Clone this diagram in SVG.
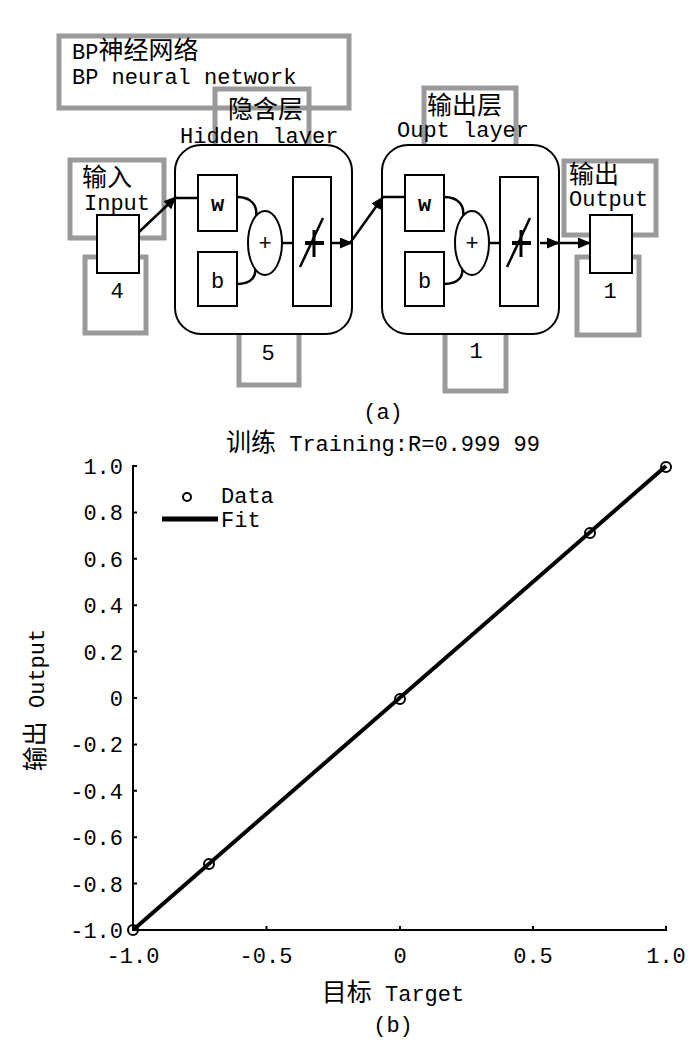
<svg xmlns="http://www.w3.org/2000/svg" width="700" height="1050" viewBox="0 0 700 1050">
<style>
text{font-family:"Liberation Mono","Noto Sans CJK SC",monospace;font-size:22px;fill:#000}
.cj{font-family:"Noto Sans CJK SC",sans-serif;font-size:25px}
.g{fill:none;stroke:#9a9a9a;stroke-width:5}
.k{fill:#fff;stroke:#000;stroke-width:2}
.ln{fill:none;stroke:#000;stroke-width:2.5}
.c{text-anchor:middle}
.e{text-anchor:end}
.ax{fill:none;stroke:#000;stroke-width:2}
.pt{fill:none;stroke:#000;stroke-width:2}
</style>
<defs>
<marker id="ah" markerUnits="userSpaceOnUse" markerWidth="13" markerHeight="11" refX="12" refY="5.5" orient="auto">
<path d="M0,0 L13,5.5 L0,11 Z" fill="#000"/>
</marker>
<g id="layer">
<rect x="175" y="145" width="177" height="189" rx="26" class="k" stroke-width="2.5"/>
<rect x="198" y="175" width="39" height="56" class="k"/>
<rect x="198" y="252" width="39" height="54" class="k"/>
<text x="217.5" y="211" class="c" font-weight="bold" font-size="20">w</text>
<text x="217.5" y="288" class="c" font-size="20">b</text>
<path d="M237,197 C252,197 258,206 256,218" class="ln"/>
<path d="M237,284 C252,284 257,276 255,266" class="ln"/>
<ellipse cx="265" cy="243" rx="17" ry="32" class="k"/>
<text x="265" y="250" class="c" font-size="18">+</text>
<line x1="282" y1="243" x2="293" y2="243" class="ln"/>
<rect x="293" y="177" width="38" height="129" class="k"/>
<line x1="300" y1="267" x2="323" y2="218" class="ln" stroke-width="2"/>
<line x1="305" y1="243" x2="324" y2="243" stroke="#000" stroke-width="4"/>
<line x1="314" y1="230" x2="314" y2="257" stroke="#000" stroke-width="3"/>
</g>
</defs>

<g id="gray-frames">
<rect x="59" y="36" width="290" height="72" class="g" stroke-width="6"/>
<rect x="215" y="89" width="94" height="70" class="g" stroke-width="4"/>
<rect x="424" y="88" width="92" height="70" class="g" stroke-width="4"/>
<rect x="70" y="160" width="94" height="78" class="g"/>
<rect x="85" y="257" width="61" height="76" class="g"/>
<rect x="239" y="320" width="60" height="65" class="g" stroke-width="4"/>
<rect x="445" y="320" width="61" height="71" class="g" stroke-width="4"/>
<rect x="564" y="161" width="92" height="74" class="g"/>
<rect x="577" y="257" width="62" height="78" class="g"/>
</g>

<g id="title-a">
<text x="72" y="59">BP<tspan class="cj">神经网络</tspan></text>
<text x="72" y="84">BP neural network</text>
</g>

<g id="input">
<text x="82" y="186" class="cj">输入</text>
<text x="84" y="210">Input</text>
<rect x="97" y="215" width="42" height="58" class="k"/>
<text x="117" y="298" class="c">4</text>
</g>

<g id="hidden-layer">
<text x="228" y="118" class="cj">隐含层</text>
<text x="180" y="143">Hidden layer</text>
<use href="#layer"/>
<text x="268" y="360" class="c">5</text>
</g>

<g id="output-layer">
<text x="427" y="114" class="cj">输出层</text>
<text x="397" y="137">Oupt layer</text>
<use href="#layer" transform="translate(207,0)"/>
<text x="476" y="358" class="c">1</text>
</g>

<g id="output">
<text x="569" y="183" class="cj">输出</text>
<text x="569" y="206">Output</text>
<rect x="590" y="215" width="42" height="58" class="k"/>
<text x="610" y="298" class="c">1</text>
</g>

<g id="connectors">
<line x1="139" y1="232" x2="176" y2="197" class="ln" marker-end="url(#ah)"/>
<line x1="174" y1="198" x2="198" y2="198" class="ln"/>
<line x1="331" y1="243" x2="352" y2="243" class="ln" marker-end="url(#ah)"/>
<line x1="350" y1="243" x2="383" y2="197" class="ln" marker-end="url(#ah)"/>
<line x1="381" y1="197" x2="405" y2="197" class="ln"/>
<line x1="540" y1="243" x2="559" y2="243" class="ln" marker-end="url(#ah)"/>
<line x1="556" y1="243" x2="590" y2="243" class="ln" marker-end="url(#ah)"/>
</g>

<text x="383" y="419" class="c">(a)</text>
<text x="383" y="451" class="c"><tspan class="cj" font-size="24">训练</tspan> Training:R=0.999 99</text>

<g id="axes">
<path d="M137,466 H133 V930 H666 V926" class="ax"/>
<path d="M133,512.4 h4 M133,558.8 h4 M133,605.2 h4 M133,651.6 h4 M133,698 h4 M133,744.4 h4 M133,790.8 h4 M133,837.2 h4 M133,883.6 h4" class="ax"/>
<path d="M266.5,930 v-4 M400,930 v-4 M533,930 v-4" class="ax"/>
</g>
<g id="y-labels">
<text x="123" y="474" class="e">1.0</text>
<text x="123" y="520" class="e">0.8</text>
<text x="123" y="567" class="e">0.6</text>
<text x="123" y="613" class="e">0.4</text>
<text x="123" y="660" class="e">0.2</text>
<text x="123" y="706" class="e">0</text>
<text x="123" y="752" class="e">-0.2</text>
<text x="123" y="799" class="e">-0.4</text>
<text x="123" y="845" class="e">-0.6</text>
<text x="123" y="892" class="e">-0.8</text>
<text x="123" y="938" class="e">-1.0</text>
</g>
<g id="x-labels">
<text x="133" y="963" class="c">-1.0</text>
<text x="266" y="963" class="c">-0.5</text>
<text x="400" y="963" class="c">0</text>
<text x="533" y="963" class="c">0.5</text>
<text x="666" y="963" class="c">1.0</text>
</g>
<text transform="translate(44,700) rotate(-90)" class="c"><tspan class="cj" font-size="24">输出</tspan> Output</text>
<text x="393" y="1001" class="c"><tspan class="cj" font-size="24">目标</tspan> Target</text>
<text x="393" y="1032" class="c">(b)</text>

<g id="fit">
<line x1="133" y1="930" x2="666" y2="466" stroke="#000" stroke-width="4"/>
</g>
<g id="data">
<circle cx="133" cy="930" r="5" class="pt"/>
<circle cx="209" cy="864" r="5" class="pt"/>
<circle cx="400" cy="699" r="5" class="pt"/>
<circle cx="590" cy="533" r="5" class="pt"/>
<circle cx="666" cy="467" r="5" class="pt"/>
</g>
<g id="legend">
<circle cx="187" cy="497" r="4" class="pt" stroke-width="2.5"/>
<text x="221" y="503">Data</text>
<line x1="162" y1="519" x2="218" y2="519" stroke="#000" stroke-width="5"/>
<text x="221" y="527">Fit</text>
</g>
</svg>
